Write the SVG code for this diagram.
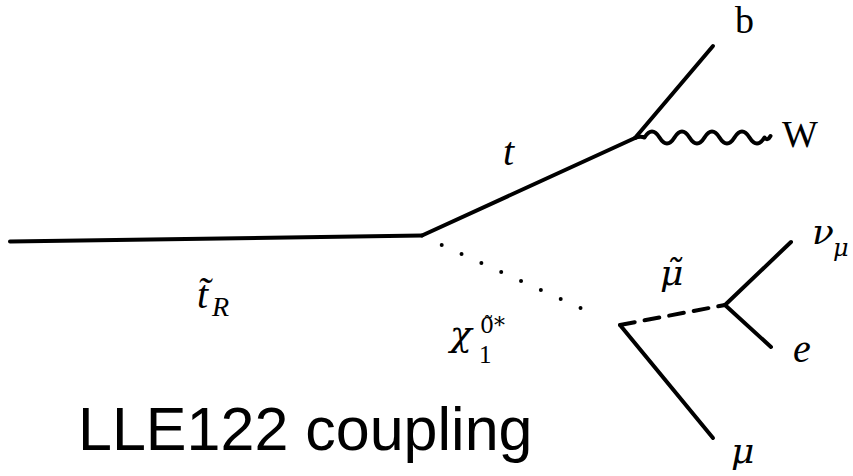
<svg xmlns="http://www.w3.org/2000/svg" width="853" height="476" viewBox="0 0 853 476">
<style>
.ln{stroke:#000;stroke-width:4;fill:none;stroke-linecap:round;stroke-linejoin:round}
.m{font-family:"Liberation Serif","DejaVu Serif",serif;font-style:italic;fill:#000}
.g{font-family:"DejaVu Serif",serif;font-style:italic;fill:#000}
.d{font-family:"DejaVu Serif",serif;fill:#000}
.r{font-family:"Liberation Serif","DejaVu Serif",serif;fill:#000}
.s{font-family:"Liberation Sans",Arial,sans-serif;fill:#000}
</style>
<rect width="853" height="476" fill="#fff"/>
<g id="connectors">
<path class="ln" d="M10,241.5 L422,235.5"/>
<path class="ln" d="M422,235.5 L635,138"/>
<path class="ln" d="M635,138 L713,46"/>
<path class="ln" d="M635,138 Q640,136 644.5,137.5 q7.5,-12 15,0 t15,0 t15,0 t15,0 t15,0 t15,0 t15,0 t15,0 q3,4 6,-1.5"/>
<line x1="441.7" y1="245" x2="600.3" y2="317" stroke="#000" stroke-width="4" stroke-linecap="round" stroke-dasharray="0 21.78"/>
<path class="ln" d="M620,325 L725,305" stroke-dasharray="15 10" stroke-linecap="butt"/>
<path class="ln" d="M725,305 L791,242"/>
<path class="ln" d="M725,305 L771,347"/>
<path class="ln" d="M620,325 L713,438"/>
</g>
<g id="label-tR"><text class="m" x="197" y="308" font-size="40">t̃</text><text class="m" x="212" y="316" font-size="28">R</text></g>
<g id="label-t"><text class="m" x="503" y="165" font-size="40">t</text></g>
<g id="label-b"><text class="r" x="735" y="33" font-size="38">b</text></g>
<g id="label-W"><text class="r" x="782" y="147" font-size="38">W</text></g>
<g id="label-chi"><text class="g" x="450" y="346" font-size="36">χ</text><text class="r" x="479" y="363" font-size="25">1</text><text class="d" x="480" y="333" font-size="22">0̃*</text></g>
<g id="label-smu"><text class="g" x="660" y="285" font-size="36">μ̃</text></g>
<g id="label-numu"><text class="g" x="812" y="244" font-size="36">ν</text><text class="g" x="833" y="256" font-size="24">μ</text></g>
<g id="label-e"><text class="m" x="793" y="362" font-size="40">e</text></g>
<g id="label-mu"><text class="g" x="731" y="463" font-size="36">μ</text></g>
<g id="title"><text class="s" x="78" y="450" font-size="61">LLE122 coupling</text></g>
</svg>
